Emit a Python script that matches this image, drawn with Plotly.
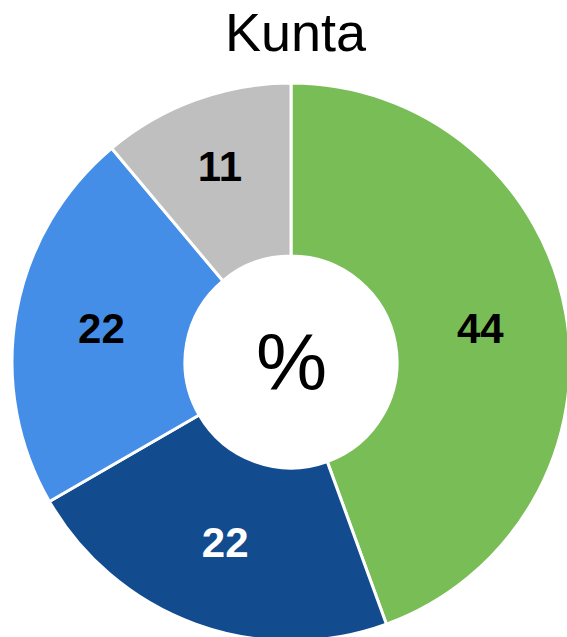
import plotly.graph_objects as go

labels = ["A", "B", "C", "D"]
values = [44, 22, 22, 11]
colors = ["#79BD57", "#134B8F", "#458EE8", "#BFBFBF"]
text_colors = ["black", "white", "black", "black"]
title_text = "Kunta"
center_text = "%"

# canvas slightly larger than the window; overflow is hidden so the ring is cropped like the reference
W, H = 575, 645
cx, cy, r = 291, 362, 279

fig = go.Figure(go.Pie(
    labels=labels,
    values=values,
    text=[str(v) for v in values],
    textinfo="text",
    textposition="inside",
    insidetextorientation="horizontal",
    textfont=dict(family="Liberation Sans, Arial", size=42, color=text_colors, weight="bold"),
    marker=dict(colors=colors, line=dict(color="white", width=3)),
    hole=0.38,
    sort=False,
    direction="clockwise",
    rotation=0,
    showlegend=False,
    hoverinfo="none",
    domain=dict(x=[(cx - r) / W, (cx + r) / W], y=[(H - cy - r) / H, (H - cy + r) / H]),
))

fig.add_annotation(
    text=center_text, x=cx / W, y=(H - cy) / H, xref="paper", yref="paper",
    showarrow=False, font=dict(family="Liberation Sans, Arial", size=80, color="black"),
    xanchor="center", yanchor="middle",
)
fig.add_annotation(
    text=title_text, x=296 / W, y=1.0, xref="paper", yref="paper",
    showarrow=False, font=dict(family="Liberation Sans, Arial", size=54, color="black"),
    xanchor="center", yanchor="top",
)

fig.update_layout(
    width=W, height=H,
    margin=dict(l=0, r=0, t=0, b=0),
    paper_bgcolor="white", plot_bgcolor="white",
)

fig.write_html(
    "out.html",
    config={"displayModeBar": False, "staticPlot": True},
    post_script="document.body.style.margin='0px';document.body.style.overflow='hidden';",
)
